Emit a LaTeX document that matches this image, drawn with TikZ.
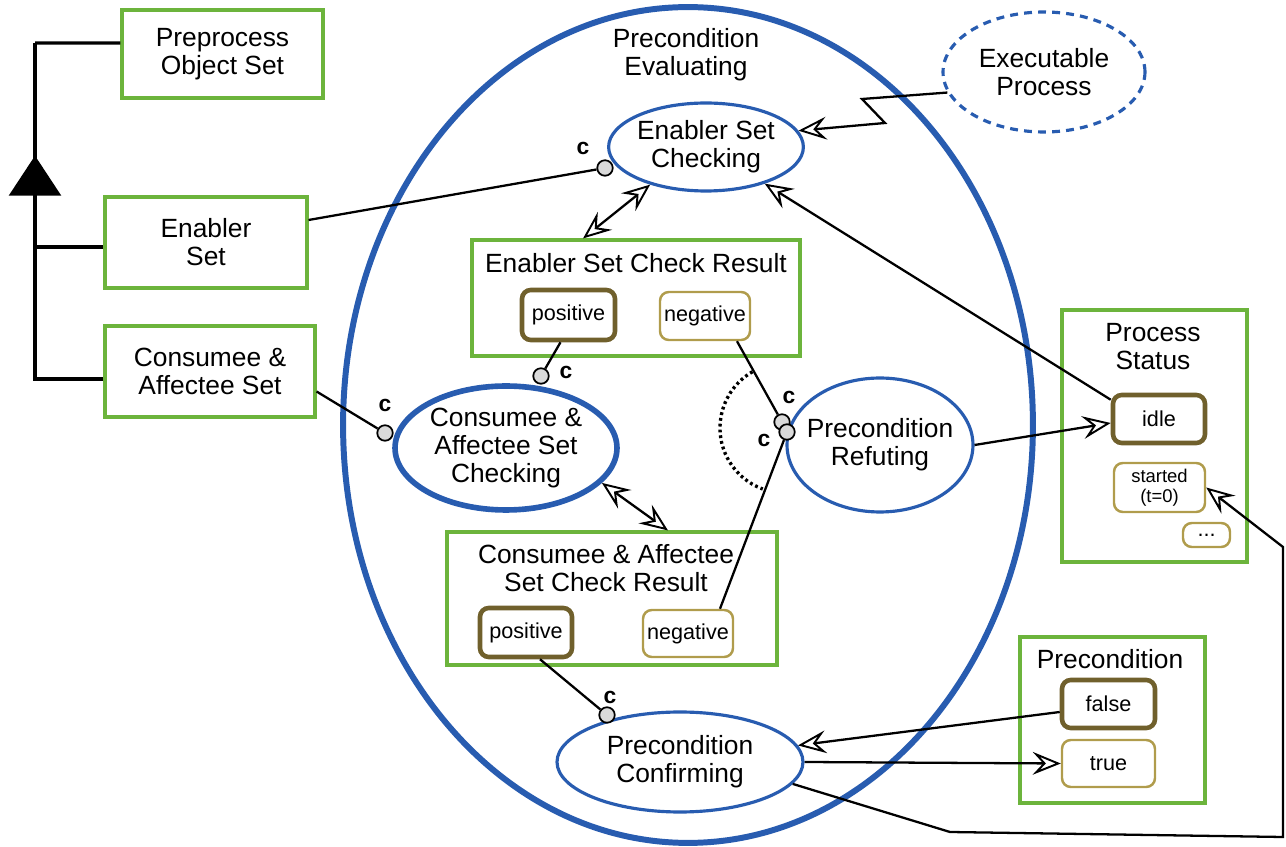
\documentclass[tikz,border=0pt]{standalone}
\usepackage{fontspec}
\setmainfont{Liberation Sans}
\usetikzlibrary{shapes.geometric,arrows.meta}
\definecolor{boxgreen}{RGB}{108,180,60}
\definecolor{ellblue}{RGB}{40,92,176}
\definecolor{stdark}{RGB}{112,96,44}
\definecolor{stlight}{RGB}{176,156,76}
\definecolor{cfill}{RGB}{218,218,218}
\begin{document}
\begin{tikzpicture}[x=0.02cm,y=-0.02cm,
  every node/.style={font=\fontsize{15}{16}\selectfont, align=center, inner sep=0pt},
  objbox/.style={draw=boxgreen, line width=1.8pt, rectangle},
  procell/.style={draw=ellblue, line width=1.8pt, ellipse},
  stbold/.style={draw=stdark, line width=2.6pt, rounded corners=5pt, font=\fontsize{12.3}{14}\selectfont},
  stthin/.style={draw=stlight, line width=1.4pt, rounded corners=5pt, font=\fontsize{12.3}{14}\selectfont},
  cdot/.style={circle, draw=black, fill=cfill, line width=1pt, minimum size=0.31cm},
  clabel/.style={font=\fontsize{13}{14}\bfseries\selectfont},
  conn/.style={draw=black, line width=1.3pt},
  inh/.style={draw=black, line width=1.8pt},
  otip/.tip={Stealth[length=16pt,width=13pt,inset=6pt,fill=white,line width=1.1pt]},
  oarrow/.style={conn, -otip},
  darrow/.style={conn, otip-otip},
]
\useasboundingbox (0,0) rectangle (1286,847);

% big ellipse
\node[ellipse, draw=ellblue, line width=3.4pt, minimum width=13.8cm, minimum height=16.72cm] (pe) at (688,425) {};
\node (pelabel) at (686,55) {Precondition\\Evaluating};

% object boxes at left
\node[objbox, minimum width=4.02cm, minimum height=1.76cm] (pre) at (222.5,54) {Preprocess\\Object Set};
\node[objbox, minimum width=4.04cm, minimum height=1.82cm] (ens) at (206,242.5) {Enabler\\Set};
\node[objbox, minimum width=4.2cm, minimum height=1.82cm] (cas) at (210,371.5) {Consumee \&\\Affectee Set};

% inheritance
\coordinate (itop) at (35,43);
\coordinate (ibot) at (35,379);
\draw[inh] (itop) -- (ibot);
\draw[inh] (itop) -- ([yshift=0.22cm]pre.west);
\draw[inh] ([yshift=-0.09cm]ens.west) -- ++(-1.4cm,0);
\draw[inh] ([yshift=-0.15cm]cas.west) -- ++(-1.4cm,0);
\draw[fill=black, line width=0.8pt] (35,157) -- (10,195) -- (60,195) -- cycle;

% processes
\node[procell, dash pattern=on 4.5pt off 3.5pt, minimum width=4.04cm, minimum height=2.4cm] (ep) at (1044,72) {Executable\\Process};
\node[procell, minimum width=3.88cm, minimum height=1.76cm] (esc) at (706,147) {Enabler Set\\Checking};
\node[procell, line width=3.2pt, minimum width=4.44cm, minimum height=2.48cm] (cac) at (506,448) {Consumee \&\\Affectee Set\\Checking};
\node[procell, inner xsep=-0.3cm, minimum width=3.72cm, minimum height=2.68cm] (pr) at (880,445) {Precondition\\Refuting};
\node[procell, minimum width=4.92cm, minimum height=2.0cm] (pconf) at (680,762) {Precondition\\Confirming};

% containers
\node[objbox, minimum width=6.56cm, minimum height=2.32cm] (escr) at (636,298) {};
\node (escrt) at (636,263) {Enabler Set Check Result};
\node[objbox, minimum width=6.6cm, minimum height=2.66cm] (cacr) at (612,598.5) {};
\node (cacrt) at (606,568) {Consumee \& Affectee\\Set Check Result};
\node[objbox, minimum width=3.7cm, minimum height=5.04cm] (ps) at (1154.5,436) {};
\node (pst) at (1153,347) {Process\\Status};
\node[objbox, minimum width=3.7cm, minimum height=3.32cm] (pc) at (1112.5,720) {};
\node (pct) at (1110,659) {Precondition};

% states
\node[stbold, minimum width=1.86cm, minimum height=1.0cm] (pos1) at (568.5,315) {positive};
\node[stthin, minimum width=1.8cm, minimum height=0.96cm] (neg1) at (705,316) {negative};
\node[stbold, minimum width=1.84cm, minimum height=0.98cm] (pos2) at (526,632.5) {positive};
\node[stthin, minimum width=1.8cm, minimum height=0.94cm] (neg2) at (688,633.5) {negative};
\node[stbold, minimum width=1.84cm, minimum height=0.96cm] (idle) at (1159,419) {idle};
\node[stthin, minimum width=1.82cm, minimum height=0.98cm, font=\fontsize{10.5}{11.5}\selectfont] (started) at (1159.5,487.5) {started\\(t=0)};
\node[stthin, minimum width=0.94cm, minimum height=0.48cm] (more) at (1206.5,535) {...};
\node[stbold, minimum width=1.86cm, minimum height=0.96cm] (false) at (1108.5,704) {false};
\node[stthin, minimum width=1.86cm, minimum height=0.94cm] (true) at (1108.5,763.5) {true};

% condition links
\node[cdot] (c1) at (605,168) {};
\node[clabel] (c1l) at (583,148) {c};
\node[cdot] (c2) at (541,376) {};
\node[clabel] (c2l) at (566,372) {c};
\node[cdot] (c3) at (385,433) {};
\node[clabel] (c3l) at (385,405) {c};
\node[cdot] (c4) at (782,422) {};
\node[clabel] (c4l) at (789,397) {c};
\node[cdot] (c5) at (787,432) {};
\node[clabel] (c5l) at (764,440) {c};
\node[cdot] (c6) at (607,715) {};
\node[clabel] (c6l) at (610,697) {c};
\draw[conn] ([yshift=0.45cm]ens.east) -- (c1);
\draw[conn] ([xshift=-0.16cm]pos1.south) -- (c2);
\draw[conn] ([yshift=-0.4cm]cas.east) -- (c3);
\draw[conn] ([xshift=0.64cm]neg1.south) -- (c4);
\draw[conn] ([xshift=0.64cm]neg2.north) -- (c5);
\draw[conn] ([xshift=0.28cm]pos2.south) -- (c6);

% dotted arc (XOR)
\coordinate (arcc) at (785,428);
\draw[line width=1.9pt, dash pattern=on 1.6pt off 1.7pt] (arcc) ++(120:1.3cm) arc[start angle=120, end angle=250, radius=1.3cm];

% arrows
\draw[darrow] ([xshift=-1.06cm]escr.north) -- (esc.214);
\draw[darrow] (cac.-20) -- ([xshift=1.12cm]cacr.north);
\draw[oarrow] (ep.192) -- (862,99) -- (885,123) -- (esc.10);
\draw[oarrow] ([yshift=-0.14cm]idle.north west) -- (esc);
\draw[oarrow] (pr.east) -- ([yshift=-0.08cm]idle.west);
\draw[oarrow] ([yshift=-0.16cm]false.west) -- (pconf.8);
\draw[oarrow] (pconf.east) -- (true.west);
\draw[oarrow] (pconf.-11) -- (950,832) -- (1283,837) -- (1283,547) -- (started.east);
\end{tikzpicture}
\end{document}
